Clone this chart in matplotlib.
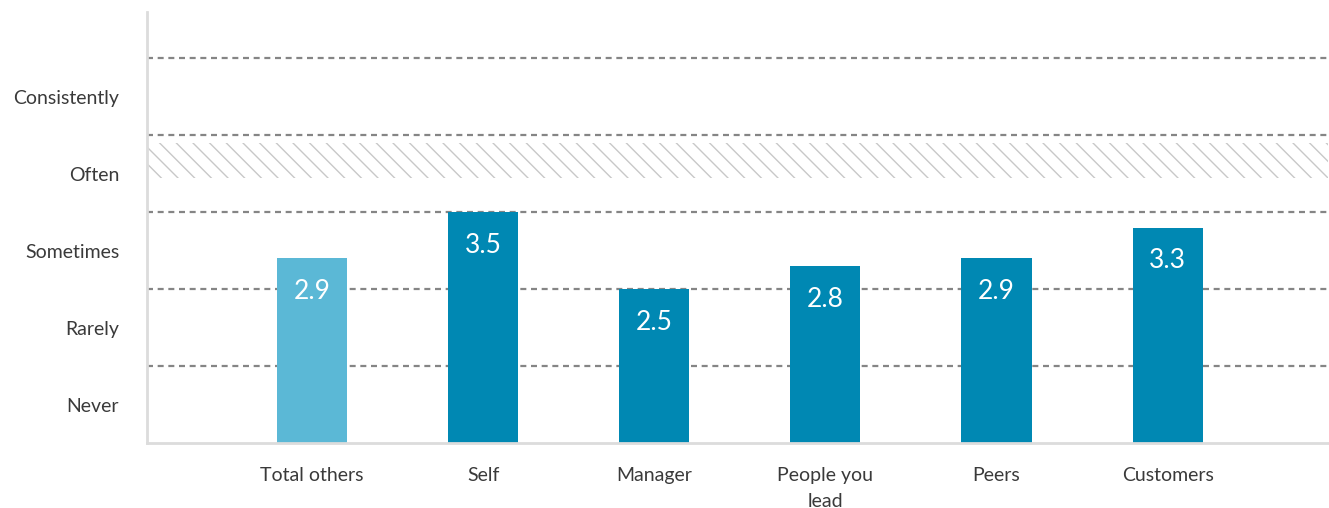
import matplotlib.pyplot as plt

plt.rcParams['font.family'] = ['Lato', 'DejaVu Sans']
plt.rcParams['hatch.linewidth'] = 1.0

groups = ["Total others", "Self", "Manager", "People you\nlead", "Peers", "Customers"]
scores = [2.9, 3.5, 2.5, 2.8, 2.9, 3.3]
bar_colors = ["#5bb8d6", "#0088b3", "#0088b3", "#0088b3", "#0088b3", "#0088b3"]
scale_labels = ["Never", "Rarely", "Sometimes", "Often", "Consistently"]
scale_values = [1, 2, 3, 4, 5]
band_low, band_high = 3.95, 4.4  # shaded range

fig = plt.figure(figsize=(13.29, 5.08), dpi=100)
ax = fig.add_axes([0.1106, 0.128, 0.889, 0.848])

x = list(range(len(groups)))

# dashed lines between the scale levels
for y in [1.5, 2.5, 3.5, 4.5, 5.5]:
    ax.axhline(y, color="#858585", lw=1.6, ls=(0, (2.7, 2.1)), zorder=1)

ax.axhspan(band_low, band_high, facecolor="none", edgecolor="#c8c8c8",
           linewidth=0, hatch="\\\\", zorder=0)

bars = ax.bar(x, [s - 0.5 for s in scores], bottom=0.5, width=0.41,
              color=bar_colors, zorder=2)
for xi, s in zip(x, scores):
    ax.annotate(f"{s}", (xi, s), xytext=(0, -33), textcoords="offset pixels",
                ha="center", va="center", color="white", fontsize=19,
                zorder=3)

ax.set_xlim(-0.964, 5.94)
ax.set_ylim(0.5, 6.1)
ax.set_xticks(x)
ax.set_xticklabels(groups, fontsize=14, color="#3a3a3a", linespacing=1.7,
                   va="top")
ax.set_yticks(scale_values)
ax.set_yticklabels(scale_labels, fontsize=14, color="#3a3a3a")
ax.tick_params(axis="x", length=0, pad=17)
ax.tick_params(axis="y", length=0, pad=20)

for side in ["top", "right"]:
    ax.spines[side].set_visible(False)
for side in ["left", "bottom"]:
    ax.spines[side].set_color("#dcdcdc")
    ax.spines[side].set_linewidth(2)

fig.savefig("out.png", dpi=100)
